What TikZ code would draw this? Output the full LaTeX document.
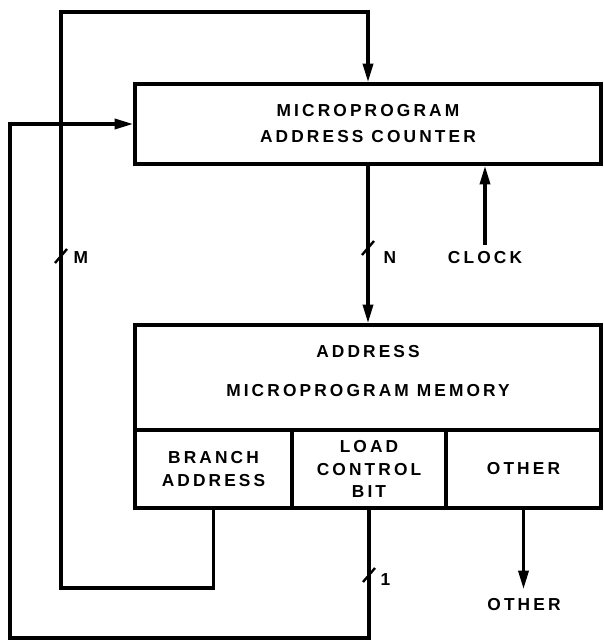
\documentclass[tikz,border=0pt]{standalone}
\usepackage{fontspec}
\newfontfamily\diagfont[LetterSpace=18]{Liberation Sans}
\usetikzlibrary{arrows.meta,positioning}

\begin{document}
\begin{tikzpicture}[
  x=0.75pt, y=-0.75pt,
  font=\diagfont\bfseries\fontsize{13}{19.5}\selectfont,
  block/.style={draw, line width=2.6pt, align=center, inner sep=0pt},
  cell/.style={block, minimum height=58.5pt, font=\diagfont\bfseries\fontsize{13}{17}\selectfont},
  wire/.style={line width=2.6pt},
  arrow/.style={wire, -{Triangle[length=14pt, width=7.5pt]}},
  tick/.style={line width=1.8pt},
  lbl/.style={inner sep=1pt}
]
\useasboundingbox (0,0) rectangle (603,642);

\node[block, minimum width=349.5pt, minimum height=60pt] (counter) at (368,124) {MICROPROGRAM\\ADDRESS COUNTER};
\node[block, minimum width=349.5pt, minimum height=78.75pt, text depth=10pt] (memory) at (368,377.5) {ADDRESS\\[10pt]MICROPROGRAM MEMORY};
\node[cell, minimum width=117.75pt] (branch) at (213.5,469) {BRANCH\\ADDRESS};
\node[cell, minimum width=115.5pt] (load) at (369,469) {LOAD\\CONTROL\\BIT};
\node[cell, minimum width=116.25pt] (other) at (523.5,469) {OTHER};

\node[lbl, inner sep=5pt] (clock) at (485,258) {CLOCK};
\node[lbl, inner sep=7pt] (otherout) at (524,605) {OTHER};
\node[lbl, anchor=west] (mlabel) at (72,258) {M};
\node[lbl, anchor=west] (nlabel) at (382,258) {N};
\node[lbl, anchor=west] (onelabel) at (379,580) {1};

\coordinate (mbot) at (61,588);
\coordinate (mtop) at (61,12);
\coordinate (lbot) at (10,638);
\coordinate (mtick) at (61,256);
\coordinate (ntick) at (368,248);
\coordinate (onetick) at (369,575);

\draw[arrow] (branch.south) |- (mbot) -- (mtop) -| (counter.north);
\draw[arrow] (load.south) |- (lbot) |- (counter.west);
\draw[arrow] (counter.south) -- (memory.north);
\draw[arrow] (clock.north) -- (clock.north |- counter.south);
\draw[arrow] (other.south) -- (other.south |- otherout.north);

\draw[tick] ([shift={(-6,7)}]mtick) -- ([shift={(6,-7)}]mtick);
\draw[tick] ([shift={(-6,7)}]ntick) -- ([shift={(6,-7)}]ntick);
\draw[tick] ([shift={(-6,7)}]onetick) -- ([shift={(6,-7)}]onetick);
\end{tikzpicture}
\end{document}
